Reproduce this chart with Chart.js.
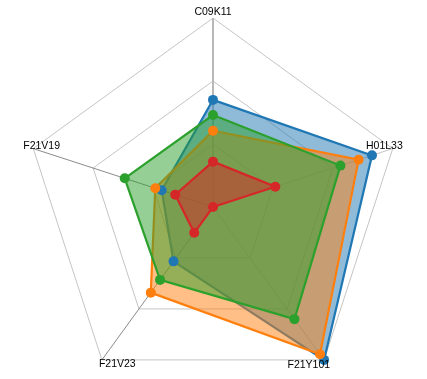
<!DOCTYPE html>
<html>
<head>
<meta charset="utf-8">
<script src="https://cdn.jsdelivr.net/npm/chart.js@4/dist/chart.umd.min.js"></script>
<style>
html,body{margin:0;padding:0;overflow:hidden;background:#fff;width:427px;height:379px;}
#wrap{position:absolute;left:0;top:0;width:427px;height:396px;}
</style>
</head>
<body>
<div id="wrap"><canvas id="c"></canvas></div>
<script>
const categories = ['C09K11', 'H01L33', 'F21Y101', 'F21V23', 'F21V19'];
const seriesBlue   = [51, 79.6, 90, 32, 25.7];
const seriesOrange = [36.3, 72.9, 86.7, 50.4, 28.9];
const seriesGreen  = [43.8, 63.8, 66, 42.9, 44.2];
const seriesRed    = [21.6, 31.2, 0, 15.2, 18.9];
const scaleMax = 90;
const scaleStep = 30;

const colors = {
  blue: '#1f77b4', orange: '#ff7f0e', green: '#2ca02c', red: '#d62728'
};
function alpha(hex, a) {
  const n = parseInt(hex.slice(1), 16);
  return `rgba(${n >> 16},${(n >> 8) & 255},${n & 255},${a})`;
}
const series = [
  {data: seriesBlue, c: colors.blue},
  {data: seriesOrange, c: colors.orange},
  {data: seriesGreen, c: colors.green},
  {data: seriesRed, c: colors.red}
];
const datasets = [];
series.forEach((s, i) => {
  datasets.push({
    data: s.data, borderColor: s.c, backgroundColor: alpha(s.c, 0.5),
    borderWidth: 2.2, fill: true, pointRadius: 0, order: 8 - i
  });
});
series.forEach((s, i) => {
  datasets.push({
    data: s.data, borderColor: s.c, backgroundColor: s.c,
    showLine: false, fill: false, pointRadius: 5, pointBorderWidth: 0,
    pointBackgroundColor: s.c, order: 4 - i
  });
});

const labelPlugin = {
  id: 'labels',
  afterDraw(chart) {
    const sc = chart.scales.r;
    const ctx = chart.ctx;
    ctx.save();
    ctx.font = '10.5px "Liberation Sans", Arial, sans-serif';
    ctx.fillStyle = '#000';
    ctx.textBaseline = 'alphabetic';
    const spec = [
      {align: 'center', dx: 0, dy: -3},
      {align: 'right', dx: 10, dy: 0},
      {align: 'right', dx: 6, dy: 8},
      {align: 'left', dx: -3, dy: 7},
      {align: 'left', dx: -10, dy: 0}
    ];
    categories.forEach((lab, i) => {
      const p = sc.getPointPosition(i, sc.drawingArea);
      ctx.textAlign = spec[i].align;
      ctx.fillText(lab, p.x + spec[i].dx, p.y + spec[i].dy);
    });
    ctx.restore();
  }
};

new Chart(document.getElementById('c'), {
  type: 'radar',
  data: {labels: categories, datasets},
  options: {
    responsive: true, maintainAspectRatio: false, animation: false,
    layout: {padding: {top: 18, bottom: 0, left: 0, right: 0}},
    plugins: {legend: {display: false}, tooltip: {enabled: false}},
    scales: {
      r: {
        min: 0, max: scaleMax,
        ticks: {display: false, stepSize: scaleStep},
        pointLabels: {display: false},
        grid: {color: '#c4c4c4', lineWidth: 1},
        angleLines: {
          color: (ctx) => (ctx.index === 3 || ctx.index === 4) ? '#8a8a8a' : (ctx.index === 0 ? '#b8b8b8' : '#c4c4c4'),
          lineWidth: (ctx) => ctx.index === 0 ? 2 : 1
        }
      }
    }
  },
  plugins: [labelPlugin]
});
</script>
</body>
</html>
